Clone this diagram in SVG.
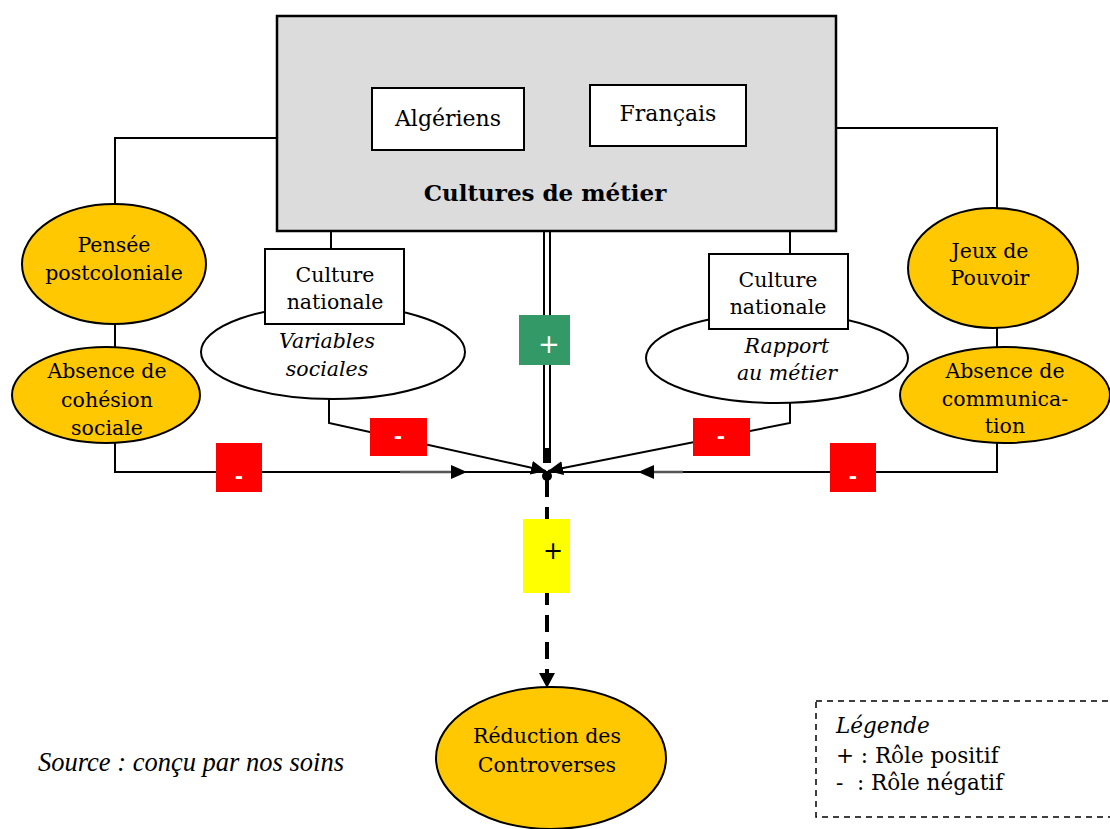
<svg xmlns="http://www.w3.org/2000/svg" width="1110" height="829" viewBox="0 0 1110 829">
<style>
.t{font-family:"DejaVu Serif","Liberation Serif",serif;font-size:20.5px;fill:#000;text-anchor:middle}
.i{font-style:italic}
.s{text-anchor:start;font-size:21.5px;white-space:pre}
.ln{fill:none;stroke:#000;stroke-width:2}
.gold{fill:#ffc800;stroke:#000;stroke-width:2}
.wb{fill:#fff;stroke:#000;stroke-width:2}
.red{fill:#ff0000}
.mt{font-family:"DejaVu Sans",sans-serif;font-size:20px;font-weight:bold;fill:#fff;text-anchor:middle}
</style>
<defs>
<marker id="ah" markerUnits="userSpaceOnUse" markerWidth="16" markerHeight="14" refX="15" refY="7" orient="auto">
<path d="M0,0 L15,7 L0,14 z" fill="#000"/>
</marker>
</defs>
<rect width="1110" height="829" fill="#fff"/>

<g id="connectors">
<polyline class="ln" points="277,138 115,138 115,205"/>
<line class="ln" x1="115" y1="323" x2="115" y2="348"/>
<polyline class="ln" points="115,443 115,472 547,472"/>
<polyline class="ln" points="836,128 997,128 997,209"/>
<line class="ln" x1="997" y1="328" x2="997" y2="348"/>
<polyline class="ln" points="997,443 997,472 547,472"/>
<polyline class="ln" points="372,122 331,122 331,249"/>
<polyline class="ln" points="746,118 790,118 790,254"/>
<polyline class="ln" points="329,399 329,423 546,471" marker-end="url(#ah)"/>
<polyline class="ln" points="790,403 790,423 548,471" marker-end="url(#ah)"/>
<line x1="400" y1="472" x2="453" y2="472" stroke="#555" stroke-width="2.5"/>
<path d="M451,465 L467,472 L451,479 z" fill="#000"/>
<line x1="683" y1="472" x2="652" y2="472" stroke="#555" stroke-width="2.5"/>
<path d="M654,465 L638,472 L654,479 z" fill="#000"/>
<line x1="544" y1="231" x2="544" y2="463" stroke="#000" stroke-width="2"/>
<line x1="550" y1="231" x2="550" y2="463" stroke="#000" stroke-width="2"/>
<rect x="543" y="448" width="8" height="15" fill="#000"/>
<circle cx="547" cy="476" r="5" fill="#000"/>
<line x1="547" y1="480" x2="547" y2="674" stroke="#000" stroke-width="4" stroke-dasharray="17,10"/>
<path d="M539,673 L555,673 L547,688 z" fill="#000"/>
</g>

<g id="cultures-metier">
<rect x="277" y="16" width="559" height="215" fill="#dcdcdc" stroke="#000" stroke-width="2.5"/>
<text class="t" x="545" y="201" font-weight="bold" style="font-size:23px">Cultures de métier</text>
</g>
<g id="algeriens">
<rect class="wb" x="372" y="88" width="152" height="62"/>
<text class="t" x="448" y="126" style="font-size:22px">Algériens</text>
</g>
<g id="francais">
<rect class="wb" x="590" y="85" width="156" height="61"/>
<text class="t" x="668" y="121" style="font-size:22px">Français</text>
</g>

<g id="pensee">
<ellipse class="gold" cx="114" cy="264" rx="92" ry="60"/>
<text class="t" x="114" y="252">Pensée</text>
<text class="t" x="114" y="280">postcoloniale</text>
</g>
<g id="absence-cohesion">
<ellipse class="gold" cx="106" cy="395" rx="94" ry="48"/>
<text class="t" x="107" y="378">Absence de</text>
<text class="t" x="107" y="407">cohésion</text>
<text class="t" x="107" y="435">sociale</text>
</g>
<g id="jeux">
<ellipse class="gold" cx="993" cy="268" rx="85" ry="60"/>
<text class="t" x="990" y="258">Jeux de</text>
<text class="t" x="990" y="285">Pouvoir</text>
</g>
<g id="absence-communication">
<ellipse class="gold" cx="1005" cy="395" rx="105" ry="48"/>
<text class="t" x="1005" y="378">Absence de</text>
<text class="t" x="1005" y="406">communica-</text>
<text class="t" x="1005" y="433">tion</text>
</g>

<g id="variables">
<ellipse class="wb" cx="333" cy="352" rx="132" ry="47"/>
<text class="t i" x="327" y="348">Variables</text>
<text class="t i" x="327" y="376">sociales</text>
</g>
<g id="culture-nat-gauche">
<rect class="wb" x="265" y="249" width="139" height="75"/>
<text class="t" x="335" y="282">Culture</text>
<text class="t" x="335" y="309">nationale</text>
</g>
<g id="rapport">
<ellipse class="wb" cx="777" cy="358" rx="131" ry="45"/>
<text class="t i" x="787" y="353">Rapport</text>
<text class="t i" x="787" y="380">au métier</text>
</g>
<g id="culture-nat-droite">
<rect class="wb" x="709" y="254" width="139" height="75"/>
<text class="t" x="778" y="287">Culture</text>
<text class="t" x="778" y="314">nationale</text>
</g>

<g id="reduction">
<ellipse class="gold" cx="551" cy="758" rx="115" ry="71"/>
<text class="t" x="547" y="743">Réduction des</text>
<text class="t" x="547" y="772">Controverses</text>
</g>

<g id="signs">
<rect class="red" x="216" y="443" width="46" height="49"/>
<text class="mt" x="239" y="483">-</text>
<rect class="red" x="370" y="418" width="57" height="38"/>
<text class="mt" x="398" y="443">-</text>
<rect class="red" x="693" y="418" width="57" height="38"/>
<text class="mt" x="721" y="443">-</text>
<rect class="red" x="830" y="443" width="46" height="49"/>
<text class="mt" x="853" y="483">-</text>
<rect x="519" y="315" width="51" height="50" fill="#339966"/>
<text x="549" y="353" font-family="DejaVu Sans,sans-serif" font-size="26" fill="#fff" text-anchor="middle">+</text>
<rect x="523" y="519" width="47" height="74" fill="#ffff00"/>
<text x="553" y="559" font-family="DejaVu Sans,sans-serif" font-size="24" fill="#000" text-anchor="middle">+</text>
</g>

<g id="legende">
<rect x="816" y="701" width="300" height="116" fill="none" stroke="#000" stroke-width="1.5" stroke-dasharray="6,5"/>
<text class="t i s" x="836" y="733">Légende</text>
<text class="t s" x="836" y="763">+ : Rôle positif</text>
<text class="t s" x="836" y="790">-  : Rôle négatif</text>
</g>

<text x="38" y="771" font-family="Liberation Serif,serif" font-style="italic" font-size="26.5">Source : conçu par nos soins</text>
</svg>
